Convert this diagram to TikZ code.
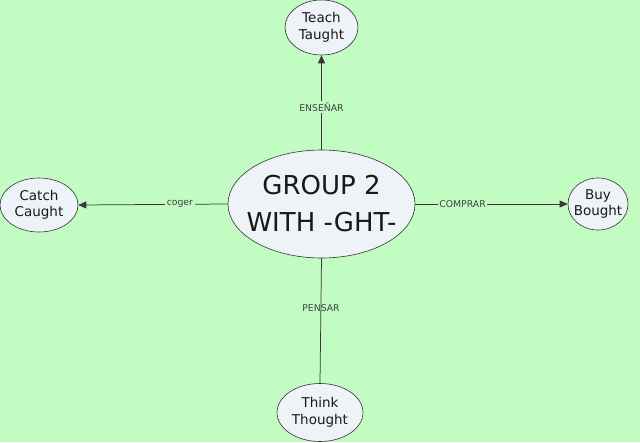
\documentclass[tikz,border=0pt]{standalone}
\usepackage{fontspec}
\setmainfont{DejaVu Sans}
\usetikzlibrary{shapes.geometric,arrows.meta}
\definecolor{bg}{HTML}{C2FCC2}
\definecolor{nodefill}{HTML}{EEF3F7}
\definecolor{edgecol}{HTML}{383838}
\tikzset{
  oval/.style={ellipse, draw=black!80, line width=0.6pt, fill=nodefill, inner sep=0pt},
  txt/.style={align=center, text=black!90, inner sep=0pt},
  small/.style={txt, font=\fontsize{13.5}{16.5}\selectfont},
  link/.style={draw=edgecol, line width=0.75pt},
  arr/.style={link, -{Triangle[length=8pt,width=7pt]}},
  lbl/.style={font=\fontsize{9.3}{11}\selectfont, text=black!75, inner sep=1.5pt},
  lblfill/.style={lbl, fill=bg}
}
\begin{document}
\begin{tikzpicture}[x=1pt,y=-1pt]
\fill[bg] (0,0) rectangle (640,442);
\useasboundingbox (0,0) rectangle (640,442);
\node[oval, minimum width=187pt, minimum height=108pt] (main) at (321.5,204) {};
\node[txt, font=\fontsize{26}{37}\selectfont] (maintext) at (main) {GROUP 2\\WITH -GHT-};
\node[oval, minimum width=73pt, minimum height=55pt] (teach) at (321.5,27.5) {};
\node[small] (teachtext) at (teach) {Teach\\Taught};
\node[oval, minimum width=78pt, minimum height=54pt] (catch) at (39,205) {};
\node[small] (catchtext) at (catch) {Catch\\Caught};
\node[oval, minimum width=60pt, minimum height=52pt] (buy) at (598,204) {};
\node[small] (buytext) at (buy) {Buy\\Bought};
\node[oval, minimum width=86pt, minimum height=58pt] (think) at (320,412.5) {};
\node[small] (thinktext) at (think) {Think\\Thought};
\draw[arr] (main.north) -- node[lblfill, pos=0.45] {ENSEÑAR} (teach.south);
\draw[arr] (main.west) -- node[lblfill, pos=0.32] {coger} (catch.east);
\draw[arr] (main.east) -- node[lblfill, pos=0.31] {COMPRAR} (buy.west);
\draw[link] (main.south) -- (think.north);
\node[lbl] (pensar) at (321,308) {PENSAR};
\end{tikzpicture}
\end{document}
